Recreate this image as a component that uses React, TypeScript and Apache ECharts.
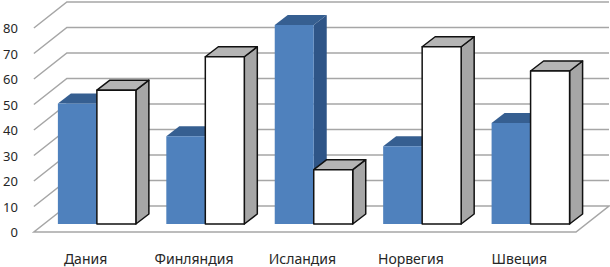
import React, { useEffect, useRef } from "react";
import * as echarts from "echarts";

const categories = ["Дания", "Финляндия", "Исландия", "Норвегия", "Швеция"];
const blueValues = [47.3, 34.4, 78, 30.5, 39.6];
const whiteValues = [52.5, 65.6, 21.3, 69.5, 60];
const wallTicks = [0, 10, 20, 30, 40, 50, 60, 70, 80];

const WALL_DX = 33;
const WALL_DY = -26;
const BASE_DX = 8.8;
const BASE_DY = -8;
const BAR_W = 39;
const BAR_DX = 13;
const BAR_DY = -10;
const GRID_COLOR = "#a6a6a6";

function wallItem(params: any, api: any) {
  const cs = params.coordSys;
  const p = api.coord([0, api.value(0)]);
  const y = p[1];
  const x0 = cs.x;
  const x1 = cs.x + cs.width;
  const style = { stroke: GRID_COLOR, lineWidth: 1.5, fill: "none" };
  const isFloor = api.value(0) === 0;
  const pts = isFloor
    ? [[x0 + WALL_DX, y + WALL_DY], [x0, y], [x1, y], [x1 + WALL_DX, y + WALL_DY], [x0 + WALL_DX, y + WALL_DY]]
    : [[x0, y], [x0 + WALL_DX, y + WALL_DY], [x1 + WALL_DX, y + WALL_DY]];
  return { type: "polyline", shape: { points: pts }, style, silent: true };
}

function barItem(side: number, front: string, top: string, right: string, stroke: string | null) {
  return (_params: any, api: any) => {
    const cat = api.value(0);
    const base = api.coord([cat, 0]);
    const head = api.coord([cat, api.value(1)]);
    const xl = base[0] + BASE_DX + (side < 0 ? -BAR_W : 0);
    const xr = xl + BAR_W;
    const yb = base[1] + BASE_DY;
    const yt = head[1] + BASE_DY;
    const edge = stroke
      ? { stroke, lineWidth: 1.5, lineJoin: "round" }
      : { stroke: null, lineWidth: 0 };
    return {
      type: "group",
      silent: true,
      children: [
        {
          type: "polygon",
          shape: { points: [[xr, yt], [xr + BAR_DX, yt + BAR_DY], [xr + BAR_DX, yb + BAR_DY], [xr, yb]] },
          style: { fill: right, ...edge },
        },
        {
          type: "polygon",
          shape: { points: [[xl, yt], [xl + BAR_DX, yt + BAR_DY], [xr + BAR_DX, yt + BAR_DY], [xr, yt]] },
          style: { fill: top, ...edge },
        },
        {
          type: "rect",
          shape: { x: xl, y: yt, width: BAR_W, height: yb - yt },
          style: { fill: front, ...edge },
        },
      ],
    };
  };
}

export default function App() {
  const ref = useRef<HTMLDivElement>(null);
  useEffect(() => {
    const chart = echarts.init(ref.current!, null, { renderer: "svg" });
    chart.setOption({
      animation: false,
      backgroundColor: "#ffffff",
      grid: { left: 32, right: 34, top: 28, bottom: 35, containLabel: false },
      xAxis: {
        type: "category",
        data: categories,
        axisLine: { show: false },
        axisTick: { show: false },
        axisLabel: { color: "#262626", fontFamily: "Noto Sans", fontSize: 14, margin: 19, padding: [0, 5, 0, 0] },
      },
      yAxis: {
        type: "value",
        min: 0,
        max: 80,
        interval: 10,
        axisLine: { show: false },
        axisTick: { show: false },
        splitLine: { show: false },
        axisLabel: { color: "#262626", fontFamily: "Noto Sans", fontSize: 13, margin: 16 },
      },
      series: [
        {
          type: "custom",
          clip: false,
          data: wallTicks.map((t) => [t]),
          encode: { y: 0 },
          renderItem: wallItem,
        },
        {
          type: "custom",
          clip: false,
          data: blueValues.map((v, i) => [i, v]),
          encode: { x: 0, y: 1 },
          renderItem: barItem(-1, "#4f81bd", "#365f91", "#2f5587", null),
        },
        {
          type: "custom",
          clip: false,
          data: whiteValues.map((v, i) => [i, v]),
          encode: { x: 0, y: 1 },
          renderItem: barItem(1, "#ffffff", "#b5b5b5", "#a6a6a6", "#111111"),
        },
      ],
    });
    return () => chart.dispose();
  }, []);
  return <div ref={ref} style={{ position: "absolute", left: 0, top: 0, width: 610, height: 267 }} />;
}
